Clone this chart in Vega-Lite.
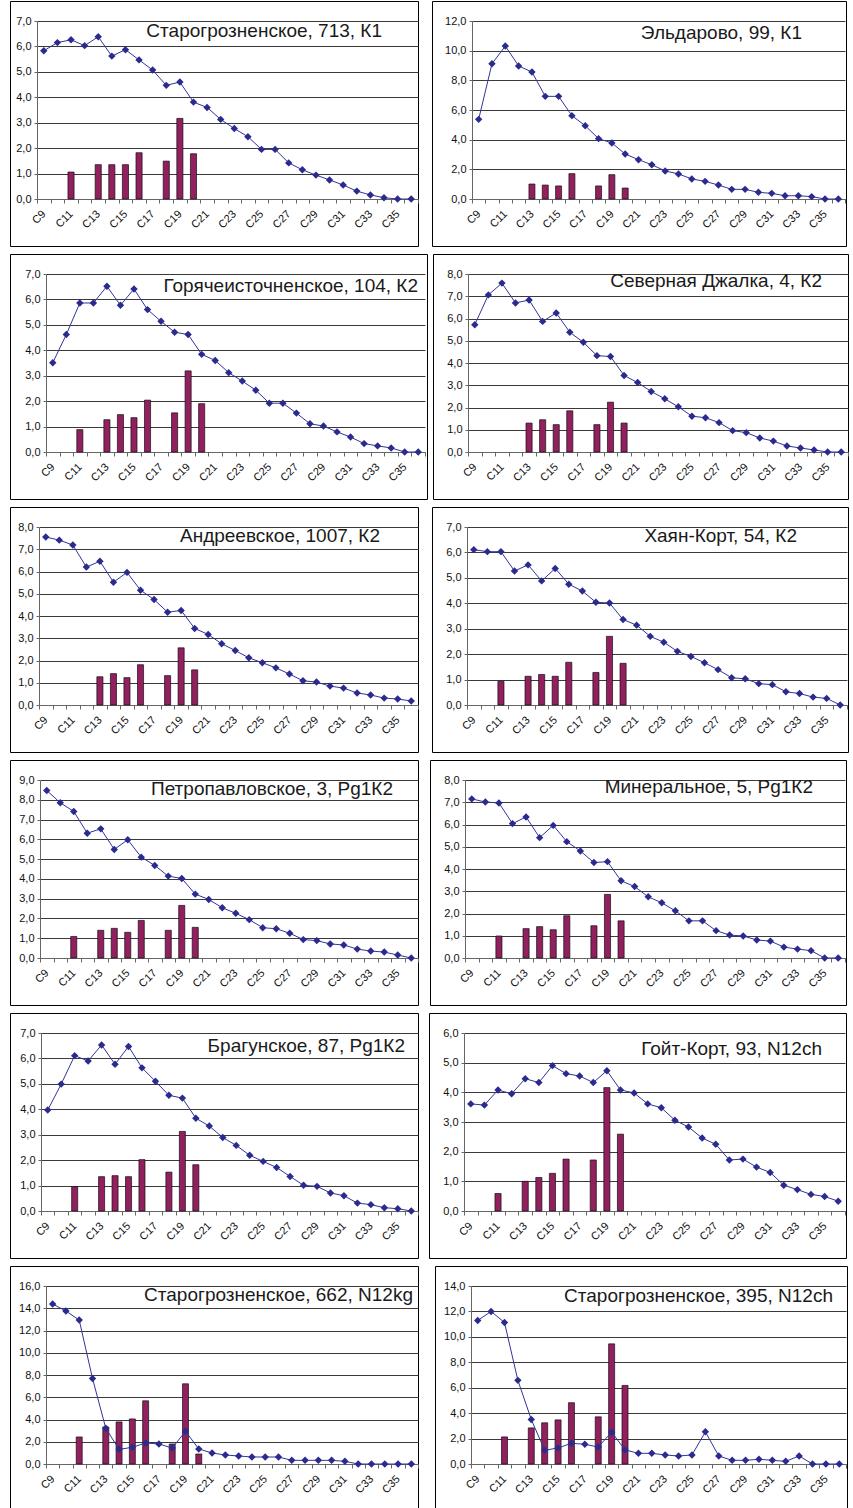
{
"$schema":"https://vega.github.io/schema/vega-lite/v6.json",
"background":"white",
"padding":{"left":5,"top":0,"right":0,"bottom":0},
"spacing":6,
"config":{
 "view":{"stroke":"#000","strokeWidth":1,"fill":"white"},
 "axis":{"labelFont":"Liberation Sans","labelFontSize":11,"labelColor":"#111","domainColor":"#666","tickColor":"#666","gridColor":"#3a3a3a","gridWidth":1},
 "axisX":{"labelAngle":-45,"labelAlign":"right","labelBaseline":"middle","tickBand":"extent","tickSize":4,"labelPadding":9,"grid":false,"labelOverlap":false},
 "axisY":{"grid":true,"tickSize":3,"labelPadding":3,"labelOverlap":false},
 "title":{"anchor":"end","frame":"group","orient":"top","offset":0,"fontSize":19,"fontWeight":"normal","font":"Liberation Sans","color":"#1a1a1a","baseline":"middle"},
 "bar":{"color":"#921f5e","stroke":"#111","strokeWidth":0.7},
 "line":{"color":"#33339a","strokeWidth":1}
},
"datasets":{
"d1":[{"c":"C9","v":5.83},{"c":"C10","v":6.15},{"c":"C11","v":6.26,"b":1.06},{"c":"C12","v":6.03},{"c":"C13","v":6.38,"b":1.35},{"c":"C14","v":5.62,"b":1.35},{"c":"C15","v":5.87,"b":1.35},{"c":"C16","v":5.47,"b":1.82},{"c":"C17","v":5.07},{"c":"C18","v":4.47,"b":1.49},{"c":"C19","v":4.6,"b":3.17},{"c":"C20","v":3.81,"b":1.78},{"c":"C21","v":3.6},{"c":"C22","v":3.13},{"c":"C23","v":2.77},{"c":"C24","v":2.45},{"c":"C25","v":1.95},{"c":"C26","v":1.95},{"c":"C27","v":1.42},{"c":"C28","v":1.15},{"c":"C29","v":0.94},{"c":"C30","v":0.75},{"c":"C31","v":0.55},{"c":"C32","v":0.31},{"c":"C33","v":0.16},{"c":"C34","v":0.05},{"c":"C35","v":0},{"c":"C36","v":0}],
"d2":[{"c":"C9","v":5.37},{"c":"C10","v":9.12},{"c":"C11","v":10.31},{"c":"C12","v":8.97},{"c":"C13","v":8.56,"b":1.01},{"c":"C14","v":6.92,"b":0.94},{"c":"C15","v":6.92,"b":0.88},{"c":"C16","v":5.62,"b":1.71},{"c":"C17","v":4.94},{"c":"C18","v":4.07,"b":0.88},{"c":"C19","v":3.78,"b":1.64},{"c":"C20","v":3.03,"b":0.74},{"c":"C21","v":2.65},{"c":"C22","v":2.31},{"c":"C23","v":1.89},{"c":"C24","v":1.69},{"c":"C25","v":1.35},{"c":"C26","v":1.19},{"c":"C27","v":0.94},{"c":"C28","v":0.65},{"c":"C29","v":0.65},{"c":"C30","v":0.45},{"c":"C31","v":0.38},{"c":"C32","v":0.22},{"c":"C33","v":0.22},{"c":"C34","v":0.16},{"c":"C35","v":0},{"c":"C36","v":0}],
"d3":[{"c":"C9","v":3.51},{"c":"C10","v":4.62},{"c":"C11","v":5.86,"b":0.88},{"c":"C12","v":5.86},{"c":"C13","v":6.52,"b":1.27},{"c":"C14","v":5.77,"b":1.47},{"c":"C15","v":6.41,"b":1.35},{"c":"C16","v":5.6,"b":2.04},{"c":"C17","v":5.14},{"c":"C18","v":4.71,"b":1.54},{"c":"C19","v":4.62,"b":3.19},{"c":"C20","v":3.84,"b":1.9},{"c":"C21","v":3.6},{"c":"C22","v":3.12},{"c":"C23","v":2.79},{"c":"C24","v":2.43},{"c":"C25","v":1.92},{"c":"C26","v":1.92},{"c":"C27","v":1.53},{"c":"C28","v":1.11},{"c":"C29","v":1.02},{"c":"C30","v":0.79},{"c":"C31","v":0.59},{"c":"C32","v":0.33},{"c":"C33","v":0.24},{"c":"C34","v":0.16},{"c":"C35","v":0},{"c":"C36","v":0}],
"d4":[{"c":"C9","v":5.72},{"c":"C10","v":7.06},{"c":"C11","v":7.59},{"c":"C12","v":6.7},{"c":"C13","v":6.83,"b":1.3},{"c":"C14","v":5.87,"b":1.45},{"c":"C15","v":6.25,"b":1.23},{"c":"C16","v":5.38,"b":1.85},{"c":"C17","v":4.93},{"c":"C18","v":4.33,"b":1.23},{"c":"C19","v":4.29,"b":2.24},{"c":"C20","v":3.44,"b":1.3},{"c":"C21","v":3.12},{"c":"C22","v":2.72},{"c":"C23","v":2.39},{"c":"C24","v":2.03},{"c":"C25","v":1.61},{"c":"C26","v":1.54},{"c":"C27","v":1.32},{"c":"C28","v":0.96},{"c":"C29","v":0.87},{"c":"C30","v":0.63},{"c":"C31","v":0.49},{"c":"C32","v":0.27},{"c":"C33","v":0.18},{"c":"C34","v":0.09},{"c":"C35","v":0},{"c":"C36","v":0}],
"d5":[{"c":"C9","v":7.55},{"c":"C10","v":7.41},{"c":"C11","v":7.19},{"c":"C12","v":6.2},{"c":"C13","v":6.46,"b":1.27},{"c":"C14","v":5.52,"b":1.41},{"c":"C15","v":5.96,"b":1.23},{"c":"C16","v":5.16,"b":1.81},{"c":"C17","v":4.74},{"c":"C18","v":4.17,"b":1.32},{"c":"C19","v":4.25,"b":2.57},{"c":"C20","v":3.44,"b":1.58},{"c":"C21","v":3.17},{"c":"C22","v":2.75},{"c":"C23","v":2.45},{"c":"C24","v":2.12},{"c":"C25","v":1.9},{"c":"C26","v":1.67},{"c":"C27","v":1.39},{"c":"C28","v":1.09},{"c":"C29","v":1.03},{"c":"C30","v":0.85},{"c":"C31","v":0.76},{"c":"C32","v":0.54},{"c":"C33","v":0.45},{"c":"C34","v":0.31},{"c":"C35","v":0.27},{"c":"C36","v":0.18}],
"d6":[{"c":"C9","v":6.11},{"c":"C10","v":6.03},{"c":"C11","v":6.03,"b":0.93},{"c":"C12","v":5.27},{"c":"C13","v":5.51,"b":1.13},{"c":"C14","v":4.88,"b":1.2},{"c":"C15","v":5.37,"b":1.13},{"c":"C16","v":4.75,"b":1.68},{"c":"C17","v":4.48},{"c":"C18","v":4.04,"b":1.28},{"c":"C19","v":4.01,"b":2.7},{"c":"C20","v":3.36,"b":1.64},{"c":"C21","v":3.14},{"c":"C22","v":2.7},{"c":"C23","v":2.47},{"c":"C24","v":2.11},{"c":"C25","v":1.91},{"c":"C26","v":1.66},{"c":"C27","v":1.39},{"c":"C28","v":1.07},{"c":"C29","v":1.03},{"c":"C30","v":0.84},{"c":"C31","v":0.8},{"c":"C32","v":0.52},{"c":"C33","v":0.45},{"c":"C34","v":0.31},{"c":"C35","v":0.26},{"c":"C36","v":0}],
"d7":[{"c":"C9","v":8.47},{"c":"C10","v":7.85},{"c":"C11","v":7.41,"b":1.09},{"c":"C12","v":6.31},{"c":"C13","v":6.53,"b":1.4},{"c":"C14","v":5.49,"b":1.5},{"c":"C15","v":5.98,"b":1.3},{"c":"C16","v":5.1,"b":1.9},{"c":"C17","v":4.68},{"c":"C18","v":4.14,"b":1.4},{"c":"C19","v":4.02,"b":2.66},{"c":"C20","v":3.23,"b":1.55},{"c":"C21","v":2.96},{"c":"C22","v":2.54},{"c":"C23","v":2.26},{"c":"C24","v":1.94},{"c":"C25","v":1.53},{"c":"C26","v":1.48},{"c":"C27","v":1.25},{"c":"C28","v":0.93},{"c":"C29","v":0.88},{"c":"C30","v":0.71},{"c":"C31","v":0.66},{"c":"C32","v":0.45},{"c":"C33","v":0.35},{"c":"C34","v":0.3},{"c":"C35","v":0.15},{"c":"C36","v":0}],
"d8":[{"c":"C9","v":7.15},{"c":"C10","v":7.01},{"c":"C11","v":6.97,"b":0.99},{"c":"C12","v":6.04},{"c":"C13","v":6.34,"b":1.32},{"c":"C14","v":5.41,"b":1.41},{"c":"C15","v":5.96,"b":1.27},{"c":"C16","v":5.23,"b":1.9},{"c":"C17","v":4.81},{"c":"C18","v":4.29,"b":1.45},{"c":"C19","v":4.33,"b":2.86},{"c":"C20","v":3.47,"b":1.67},{"c":"C21","v":3.21},{"c":"C22","v":2.75},{"c":"C23","v":2.48},{"c":"C24","v":2.12},{"c":"C25","v":1.67},{"c":"C26","v":1.67},{"c":"C27","v":1.23},{"c":"C28","v":1.03},{"c":"C29","v":0.99},{"c":"C30","v":0.81},{"c":"C31","v":0.76},{"c":"C32","v":0.49},{"c":"C33","v":0.4},{"c":"C34","v":0.33},{"c":"C35","v":0},{"c":"C36","v":0}],
"d9":[{"c":"C9","v":3.97},{"c":"C10","v":4.99},{"c":"C11","v":6.11,"b":0.96},{"c":"C12","v":5.9},{"c":"C13","v":6.53,"b":1.35},{"c":"C14","v":5.77,"b":1.39},{"c":"C15","v":6.47,"b":1.35},{"c":"C16","v":5.63,"b":2.02},{"c":"C17","v":5.1},{"c":"C18","v":4.55,"b":1.53},{"c":"C19","v":4.44,"b":3.13},{"c":"C20","v":3.65,"b":1.82},{"c":"C21","v":3.34},{"c":"C22","v":2.89},{"c":"C23","v":2.58},{"c":"C24","v":2.19},{"c":"C25","v":1.95},{"c":"C26","v":1.71},{"c":"C27","v":1.36},{"c":"C28","v":1.01},{"c":"C29","v":0.97},{"c":"C30","v":0.71},{"c":"C31","v":0.6},{"c":"C32","v":0.31},{"c":"C33","v":0.25},{"c":"C34","v":0.13},{"c":"C35","v":0.09},{"c":"C36","v":0}],
"d10":[{"c":"C9","v":3.61},{"c":"C10","v":3.57},{"c":"C11","v":4.08,"b":0.59},{"c":"C12","v":3.95},{"c":"C13","v":4.46,"b":1.0},{"c":"C14","v":4.33,"b":1.13},{"c":"C15","v":4.9,"b":1.27},{"c":"C16","v":4.63,"b":1.75},{"c":"C17","v":4.55},{"c":"C18","v":4.33,"b":1.72},{"c":"C19","v":4.73,"b":4.16},{"c":"C20","v":4.08,"b":2.59},{"c":"C21","v":3.98},{"c":"C22","v":3.61},{"c":"C23","v":3.48},{"c":"C24","v":3.06},{"c":"C25","v":2.83},{"c":"C26","v":2.46},{"c":"C27","v":2.25},{"c":"C28","v":1.72},{"c":"C29","v":1.75},{"c":"C30","v":1.48},{"c":"C31","v":1.3},{"c":"C32","v":0.87},{"c":"C33","v":0.72},{"c":"C34","v":0.56},{"c":"C35","v":0.49},{"c":"C36","v":0.33}],
"d11":[{"c":"C9","v":14.38},{"c":"C10","v":13.75},{"c":"C11","v":12.94,"b":2.43},{"c":"C12","v":7.69},{"c":"C13","v":3.21,"b":3.33},{"c":"C14","v":1.32,"b":3.78},{"c":"C15","v":1.5,"b":4.05},{"c":"C16","v":1.89,"b":5.68},{"c":"C17","v":1.8},{"c":"C18","v":1.44,"b":1.8},{"c":"C19","v":2.94,"b":7.21},{"c":"C20","v":1.35,"b":0.9},{"c":"C21","v":0.99},{"c":"C22","v":0.81},{"c":"C23","v":0.72},{"c":"C24","v":0.63},{"c":"C25","v":0.63},{"c":"C26","v":0.63},{"c":"C27","v":0.33},{"c":"C28","v":0.33},{"c":"C29","v":0.33},{"c":"C30","v":0.33},{"c":"C31","v":0.24},{"c":"C32","v":0},{"c":"C33","v":0},{"c":"C34","v":0},{"c":"C35","v":0},{"c":"C36","v":0}],
"d12":[{"c":"C9","v":11.29},{"c":"C10","v":12.0},{"c":"C11","v":11.13,"b":2.13},{"c":"C12","v":6.58},{"c":"C13","v":3.5,"b":2.84},{"c":"C14","v":1.08,"b":3.24},{"c":"C15","v":1.26,"b":3.47},{"c":"C16","v":1.63,"b":4.82},{"c":"C17","v":1.55},{"c":"C18","v":1.34,"b":3.71},{"c":"C19","v":2.5,"b":9.45},{"c":"C20","v":1.11,"b":6.18},{"c":"C21","v":0.84},{"c":"C22","v":0.84},{"c":"C23","v":0.71},{"c":"C24","v":0.63},{"c":"C25","v":0.71},{"c":"C26","v":2.53},{"c":"C27","v":0.63},{"c":"C28","v":0.29},{"c":"C29","v":0.29},{"c":"C30","v":0.37},{"c":"C31","v":0.29},{"c":"C32","v":0.21},{"c":"C33","v":0.63},{"c":"C34","v":0},{"c":"C35","v":0},{"c":"C36","v":0}]
},
"vconcat":[
{"spacing":8,"hconcat":[
{"width":408,"height":245,"data":{"name":"d1"},"title":{"text":"Старогрозненское, 713, К1","dx":-36,"dy":44},
 "encoding":{"x":{"field":"c","type":"nominal","scale":{"domain":["C9","C10","C11","C12","C13","C14","C15","C16","C17","C18","C19","C20","C21","C22","C23","C24","C25","C26","C27","C28","C29","C30","C31","C32","C33","C34","C35","C36"],"range":[27,408],"paddingInner":0,"paddingOuter":0},"axis":{"title":null,"offset":-47,"labelExpr":"parseInt(substring(datum.value,1)) % 2 == 1 ? datum.value : ''"}}},
 "layer":[
 {"mark":{"type":"bar","width":{"band":0.45}},"encoding":{"y":{"field":"b","type":"quantitative","scale":{"domain":[0,7],"range":[198,20]},"axis":{"title":null,"offset":-27,"values":[0,1,2,3,4,5,6,7],"labelExpr":"replace(format(datum.value,'.1f'),'.',',')"}}}},
 {"mark":{"type":"line","point":{"shape":"diamond","size":55,"filled":true,"color":"#2b2b8f"}},"encoding":{"y":{"field":"v","type":"quantitative","scale":{"domain":[0,7],"range":[198,20]},"axis":{"title":null,"offset":-27,"values":[0,1,2,3,4,5,6,7],"labelExpr":"replace(format(datum.value,'.1f'),'.',',')"}}}}
 ]},
{"width":414,"height":245,"data":{"name":"d2"},"title":{"text":"Эльдарово, 99, К1","dx":-44,"dy":46},
 "encoding":{"x":{"field":"c","type":"nominal","scale":{"domain":["C9","C10","C11","C12","C13","C14","C15","C16","C17","C18","C19","C20","C21","C22","C23","C24","C25","C26","C27","C28","C29","C30","C31","C32","C33","C34","C35","C36"],"range":[40,413],"paddingInner":0,"paddingOuter":0},"axis":{"title":null,"offset":-47,"labelExpr":"parseInt(substring(datum.value,1)) % 2 == 1 ? datum.value : ''"}}},
 "layer":[
 {"mark":{"type":"bar","width":{"band":0.45}},"encoding":{"y":{"field":"b","type":"quantitative","scale":{"domain":[0,12],"range":[198,20]},"axis":{"title":null,"offset":-40,"values":[0,2,4,6,8,10,12],"labelExpr":"replace(format(datum.value,'.1f'),'.',',')"}}}},
 {"mark":{"type":"line","point":{"shape":"diamond","size":55,"filled":true,"color":"#2b2b8f"}},"encoding":{"y":{"field":"v","type":"quantitative","scale":{"domain":[0,12],"range":[198,20]},"axis":{"title":null,"offset":-40,"values":[0,2,4,6,8,10,12],"labelExpr":"replace(format(datum.value,'.1f'),'.',',')"}}}}
 ]}
]},
{"spacing":0,"hconcat":[
{"width":417,"height":245,"data":{"name":"d3"},"title":{"text":"Горячеисточненское, 104, К2","dx":-9,"dy":46},
 "encoding":{"x":{"field":"c","type":"nominal","scale":{"domain":["C9","C10","C11","C12","C13","C14","C15","C16","C17","C18","C19","C20","C21","C22","C23","C24","C25","C26","C27","C28","C29","C30","C31","C32","C33","C34","C35","C36"],"range":[36,415],"paddingInner":0,"paddingOuter":0},"axis":{"title":null,"offset":-47,"labelExpr":"parseInt(substring(datum.value,1)) % 2 == 1 ? datum.value : ''"}}},
 "layer":[
 {"mark":{"type":"bar","width":{"band":0.45}},"encoding":{"y":{"field":"b","type":"quantitative","scale":{"domain":[0,7],"range":[198,20]},"axis":{"title":null,"offset":-36,"values":[0,1,2,3,4,5,6,7],"labelExpr":"replace(format(datum.value,'.1f'),'.',',')"}}}},
 {"mark":{"type":"line","point":{"shape":"diamond","size":55,"filled":true,"color":"#2b2b8f"}},"encoding":{"y":{"field":"v","type":"quantitative","scale":{"domain":[0,7],"range":[198,20]},"axis":{"title":null,"offset":-36,"values":[0,1,2,3,4,5,6,7],"labelExpr":"replace(format(datum.value,'.1f'),'.',',')"}}}}
 ]},
{"width":415,"height":245,"data":{"name":"d4"},"title":{"text":"Северная Джалка, 4, К2","dx":-26,"dy":41},
 "encoding":{"x":{"field":"c","type":"nominal","scale":{"domain":["C9","C10","C11","C12","C13","C14","C15","C16","C17","C18","C19","C20","C21","C22","C23","C24","C25","C26","C27","C28","C29","C30","C31","C32","C33","C34","C35","C36"],"range":[35,415],"paddingInner":0,"paddingOuter":0},"axis":{"title":null,"offset":-47,"labelExpr":"parseInt(substring(datum.value,1)) % 2 == 1 ? datum.value : ''"}}},
 "layer":[
 {"mark":{"type":"bar","width":{"band":0.45}},"encoding":{"y":{"field":"b","type":"quantitative","scale":{"domain":[0,8],"range":[198,20]},"axis":{"title":null,"offset":-35,"values":[0,1,2,3,4,5,6,7,8],"labelExpr":"replace(format(datum.value,'.1f'),'.',',')"}}}},
 {"mark":{"type":"line","point":{"shape":"diamond","size":55,"filled":true,"color":"#2b2b8f"}},"encoding":{"y":{"field":"v","type":"quantitative","scale":{"domain":[0,8],"range":[198,20]},"axis":{"title":null,"offset":-35,"values":[0,1,2,3,4,5,6,7,8],"labelExpr":"replace(format(datum.value,'.1f'),'.',',')"}}}}
 ]}
]},
{"spacing":8,"hconcat":[
{"width":408,"height":245,"data":{"name":"d5"},"title":{"text":"Андреевское, 1007, К2","dx":-38,"dy":43},
 "encoding":{"x":{"field":"c","type":"nominal","scale":{"domain":["C9","C10","C11","C12","C13","C14","C15","C16","C17","C18","C19","C20","C21","C22","C23","C24","C25","C26","C27","C28","C29","C30","C31","C32","C33","C34","C35","C36"],"range":[29,408],"paddingInner":0,"paddingOuter":0},"axis":{"title":null,"offset":-47,"labelExpr":"parseInt(substring(datum.value,1)) % 2 == 1 ? datum.value : ''"}}},
 "layer":[
 {"mark":{"type":"bar","width":{"band":0.45}},"encoding":{"y":{"field":"b","type":"quantitative","scale":{"domain":[0,8],"range":[198,20]},"axis":{"title":null,"offset":-29,"values":[0,1,2,3,4,5,6,7,8],"labelExpr":"replace(format(datum.value,'.1f'),'.',',')"}}}},
 {"mark":{"type":"line","point":{"shape":"diamond","size":55,"filled":true,"color":"#2b2b8f"}},"encoding":{"y":{"field":"v","type":"quantitative","scale":{"domain":[0,8],"range":[198,20]},"axis":{"title":null,"offset":-29,"values":[0,1,2,3,4,5,6,7,8],"labelExpr":"replace(format(datum.value,'.1f'),'.',',')"}}}}
 ]},
{"width":416,"height":245,"data":{"name":"d6"},"title":{"text":"Хаян-Корт, 54, К2","dx":-51,"dy":43},
 "encoding":{"x":{"field":"c","type":"nominal","scale":{"domain":["C9","C10","C11","C12","C13","C14","C15","C16","C17","C18","C19","C20","C21","C22","C23","C24","C25","C26","C27","C28","C29","C30","C31","C32","C33","C34","C35","C36"],"range":[35,415],"paddingInner":0,"paddingOuter":0},"axis":{"title":null,"offset":-47,"labelExpr":"parseInt(substring(datum.value,1)) % 2 == 1 ? datum.value : ''"}}},
 "layer":[
 {"mark":{"type":"bar","width":{"band":0.45}},"encoding":{"y":{"field":"b","type":"quantitative","scale":{"domain":[0,7],"range":[198,20]},"axis":{"title":null,"offset":-35,"values":[0,1,2,3,4,5,6,7],"labelExpr":"replace(format(datum.value,'.1f'),'.',',')"}}}},
 {"mark":{"type":"line","point":{"shape":"diamond","size":55,"filled":true,"color":"#2b2b8f"}},"encoding":{"y":{"field":"v","type":"quantitative","scale":{"domain":[0,7],"range":[198,20]},"axis":{"title":null,"offset":-35,"values":[0,1,2,3,4,5,6,7],"labelExpr":"replace(format(datum.value,'.1f'),'.',',')"}}}}
 ]}
]},
{"spacing":6,"hconcat":[
{"width":408,"height":245,"data":{"name":"d7"},"title":{"text":"Петропавловское, 3, Pg1К2","dx":-25,"dy":43},
 "encoding":{"x":{"field":"c","type":"nominal","scale":{"domain":["C9","C10","C11","C12","C13","C14","C15","C16","C17","C18","C19","C20","C21","C22","C23","C24","C25","C26","C27","C28","C29","C30","C31","C32","C33","C34","C35","C36"],"range":[30,408],"paddingInner":0,"paddingOuter":0},"axis":{"title":null,"offset":-47,"labelExpr":"parseInt(substring(datum.value,1)) % 2 == 1 ? datum.value : ''"}}},
 "layer":[
 {"mark":{"type":"bar","width":{"band":0.45}},"encoding":{"y":{"field":"b","type":"quantitative","scale":{"domain":[0,9],"range":[198,20]},"axis":{"title":null,"offset":-30,"values":[0,1,2,3,4,5,6,7,8,9],"labelExpr":"replace(format(datum.value,'.1f'),'.',',')"}}}},
 {"mark":{"type":"line","point":{"shape":"diamond","size":55,"filled":true,"color":"#2b2b8f"}},"encoding":{"y":{"field":"v","type":"quantitative","scale":{"domain":[0,9],"range":[198,20]},"axis":{"title":null,"offset":-30,"values":[0,1,2,3,4,5,6,7,8,9],"labelExpr":"replace(format(datum.value,'.1f'),'.',',')"}}}}
 ]},
{"width":416,"height":245,"data":{"name":"d8"},"title":{"text":"Минеральное, 5,  Pg1К2","dx":-33,"dy":41},
 "encoding":{"x":{"field":"c","type":"nominal","scale":{"domain":["C9","C10","C11","C12","C13","C14","C15","C16","C17","C18","C19","C20","C21","C22","C23","C24","C25","C26","C27","C28","C29","C30","C31","C32","C33","C34","C35","C36"],"range":[35,415],"paddingInner":0,"paddingOuter":0},"axis":{"title":null,"offset":-47,"labelExpr":"parseInt(substring(datum.value,1)) % 2 == 1 ? datum.value : ''"}}},
 "layer":[
 {"mark":{"type":"bar","width":{"band":0.45}},"encoding":{"y":{"field":"b","type":"quantitative","scale":{"domain":[0,8],"range":[198,20]},"axis":{"title":null,"offset":-35,"values":[0,1,2,3,4,5,6,7,8],"labelExpr":"replace(format(datum.value,'.1f'),'.',',')"}}}},
 {"mark":{"type":"line","point":{"shape":"diamond","size":55,"filled":true,"color":"#2b2b8f"}},"encoding":{"y":{"field":"v","type":"quantitative","scale":{"domain":[0,8],"range":[198,20]},"axis":{"title":null,"offset":-35,"values":[0,1,2,3,4,5,6,7,8],"labelExpr":"replace(format(datum.value,'.1f'),'.',',')"}}}}
 ]}
]},
{"spacing":5,"hconcat":[
{"width":408,"height":245,"data":{"name":"d9"},"title":{"text":"Брагунское, 87, Pg1К2","dx":-13,"dy":47},
 "encoding":{"x":{"field":"c","type":"nominal","scale":{"domain":["C9","C10","C11","C12","C13","C14","C15","C16","C17","C18","C19","C20","C21","C22","C23","C24","C25","C26","C27","C28","C29","C30","C31","C32","C33","C34","C35","C36"],"range":[31,408],"paddingInner":0,"paddingOuter":0},"axis":{"title":null,"offset":-47,"labelExpr":"parseInt(substring(datum.value,1)) % 2 == 1 ? datum.value : ''"}}},
 "layer":[
 {"mark":{"type":"bar","width":{"band":0.45}},"encoding":{"y":{"field":"b","type":"quantitative","scale":{"domain":[0,7],"range":[198,20]},"axis":{"title":null,"offset":-31,"values":[0,1,2,3,4,5,6,7],"labelExpr":"replace(format(datum.value,'.1f'),'.',',')"}}}},
 {"mark":{"type":"line","point":{"shape":"diamond","size":55,"filled":true,"color":"#2b2b8f"}},"encoding":{"y":{"field":"v","type":"quantitative","scale":{"domain":[0,7],"range":[198,20]},"axis":{"title":null,"offset":-31,"values":[0,1,2,3,4,5,6,7],"labelExpr":"replace(format(datum.value,'.1f'),'.',',')"}}}}
 ]},
{"width":417,"height":245,"data":{"name":"d10"},"title":{"text":"Гойт-Корт, 93,  N12ch","dx":-24,"dy":50},
 "encoding":{"x":{"field":"c","type":"nominal","scale":{"domain":["C9","C10","C11","C12","C13","C14","C15","C16","C17","C18","C19","C20","C21","C22","C23","C24","C25","C26","C27","C28","C29","C30","C31","C32","C33","C34","C35","C36"],"range":[35,416],"paddingInner":0,"paddingOuter":0},"axis":{"title":null,"offset":-47,"labelExpr":"parseInt(substring(datum.value,1)) % 2 == 1 ? datum.value : ''"}}},
 "layer":[
 {"mark":{"type":"bar","width":{"band":0.45}},"encoding":{"y":{"field":"b","type":"quantitative","scale":{"domain":[0,6],"range":[198,20]},"axis":{"title":null,"offset":-35,"values":[0,1,2,3,4,5,6],"labelExpr":"replace(format(datum.value,'.1f'),'.',',')"}}}},
 {"mark":{"type":"line","point":{"shape":"diamond","size":55,"filled":true,"color":"#2b2b8f"}},"encoding":{"y":{"field":"v","type":"quantitative","scale":{"domain":[0,6],"range":[198,20]},"axis":{"title":null,"offset":-35,"values":[0,1,2,3,4,5,6],"labelExpr":"replace(format(datum.value,'.1f'),'.',',')"}}}}
 ]}
]},
{"spacing":11,"hconcat":[
{"width":408,"height":245,"data":{"name":"d11"},"title":{"text":"Старогрозненское, 662, N12kg","dx":-5,"dy":43},
 "encoding":{"x":{"field":"c","type":"nominal","scale":{"domain":["C9","C10","C11","C12","C13","C14","C15","C16","C17","C18","C19","C20","C21","C22","C23","C24","C25","C26","C27","C28","C29","C30","C31","C32","C33","C34","C35","C36"],"range":[36,408],"paddingInner":0,"paddingOuter":0},"axis":{"title":null,"offset":-47,"labelExpr":"parseInt(substring(datum.value,1)) % 2 == 1 ? datum.value : ''"}}},
 "layer":[
 {"mark":{"type":"bar","width":{"band":0.45}},"encoding":{"y":{"field":"b","type":"quantitative","scale":{"domain":[0,16],"range":[198,20]},"axis":{"title":null,"offset":-36,"values":[0,2,4,6,8,10,12,14,16],"labelExpr":"replace(format(datum.value,'.1f'),'.',',')"}}}},
 {"mark":{"type":"line","point":{"shape":"diamond","size":55,"filled":true,"color":"#2b2b8f"}},"encoding":{"y":{"field":"v","type":"quantitative","scale":{"domain":[0,16],"range":[198,20]},"axis":{"title":null,"offset":-36,"values":[0,2,4,6,8,10,12,14,16],"labelExpr":"replace(format(datum.value,'.1f'),'.',',')"}}}}
 ]},
{"width":412,"height":245,"data":{"name":"d12"},"title":{"text":"Старогрозненское, 395, N12ch","dx":-14,"dy":44},
 "encoding":{"x":{"field":"c","type":"nominal","scale":{"domain":["C9","C10","C11","C12","C13","C14","C15","C16","C17","C18","C19","C20","C21","C22","C23","C24","C25","C26","C27","C28","C29","C30","C31","C32","C33","C34","C35","C36"],"range":[36,411],"paddingInner":0,"paddingOuter":0},"axis":{"title":null,"offset":-47,"labelExpr":"parseInt(substring(datum.value,1)) % 2 == 1 ? datum.value : ''"}}},
 "layer":[
 {"mark":{"type":"bar","width":{"band":0.45}},"encoding":{"y":{"field":"b","type":"quantitative","scale":{"domain":[0,14],"range":[198,20]},"axis":{"title":null,"offset":-36,"values":[0,2,4,6,8,10,12,14],"labelExpr":"replace(format(datum.value,'.1f'),'.',',')"}}}},
 {"mark":{"type":"line","point":{"shape":"diamond","size":55,"filled":true,"color":"#2b2b8f"}},"encoding":{"y":{"field":"v","type":"quantitative","scale":{"domain":[0,14],"range":[198,20]},"axis":{"title":null,"offset":-36,"values":[0,2,4,6,8,10,12,14],"labelExpr":"replace(format(datum.value,'.1f'),'.',',')"}}}}
 ]}
]}
]
}
